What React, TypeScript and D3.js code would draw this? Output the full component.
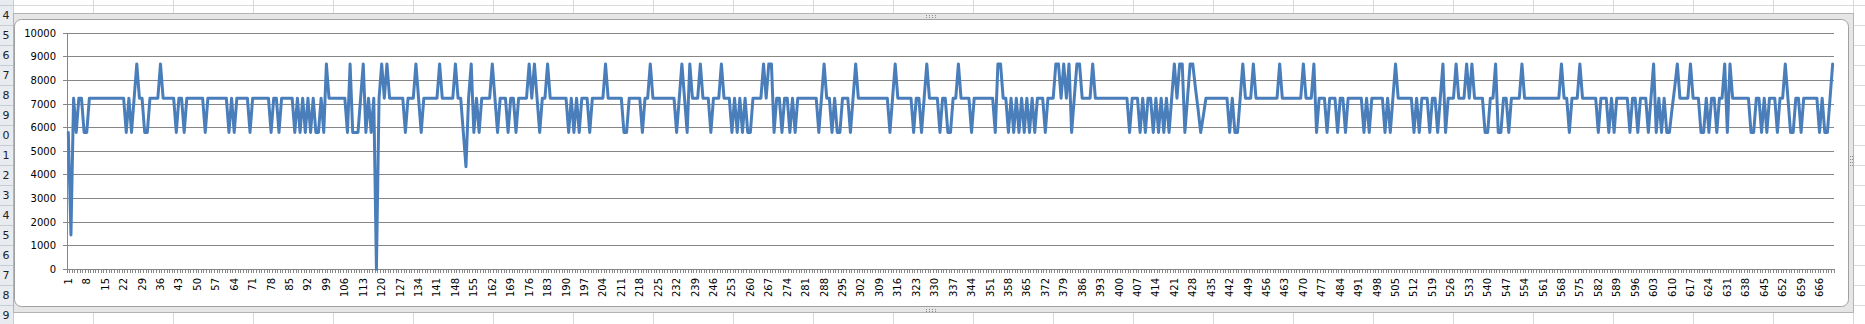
import React from 'react';
import * as d3 from 'd3';

// Series values (points 1..671)
const values001 = [
  5800, 1450, 7250, 5800, 7250, 7250, 5800, 5800, 7250, 7250,
  7250, 7250, 7250, 7250, 7250, 7250, 7250, 7250, 7250, 7250,
  7250, 7250, 5800, 7250, 5800, 7250, 8700, 7250, 7250, 5800,
  5800, 7250, 7250, 7250, 7250, 8700, 7250, 7250, 7250, 7250,
  7250, 5800, 7250, 7250, 5800, 7250, 7250, 7250, 7250, 7250,
  7250, 7250, 5800, 7250, 7250, 7250, 7250, 7250, 7250, 7250,
  7250, 5800, 7250, 5800, 7250, 7250, 7250, 7250, 7250, 5800,
  7250, 7250, 7250, 7250, 7250, 7250, 7250, 5800, 7250, 7250,
  5800, 7250, 7250, 7250, 7250, 7250, 5800, 7250, 5800, 7250,
  5800, 7250, 5800, 7250, 5800, 5800, 7250, 5800, 8700, 7250,
];
const values101 = [
  7250, 7250, 7250, 7250, 7250, 7250, 5800, 8700, 5800, 5800,
  5800, 7250, 8700, 5800, 7250, 5800, 7250, 0, 7250, 8700,
  7250, 8700, 7250, 7250, 7250, 7250, 7250, 7250, 5800, 7250,
  7250, 7250, 8700, 7250, 5800, 7250, 7250, 7250, 7250, 7250,
  7250, 8700, 7250, 7250, 7250, 7250, 7250, 8700, 7250, 7250,
  5800, 4350, 7250, 8700, 5800, 7250, 5800, 7250, 7250, 7250,
  7250, 8700, 7250, 5800, 7250, 7250, 7250, 5800, 7250, 7250,
  5800, 7250, 7250, 7250, 7250, 8700, 7250, 8700, 7250, 5800,
  7250, 7250, 8700, 7250, 7250, 7250, 7250, 7250, 7250, 7250,
  5800, 7250, 5800, 7250, 5800, 7250, 7250, 7250, 5800, 7250,
];
const values201 = [
  7250, 7250, 7250, 7250, 8700, 7250, 7250, 7250, 7250, 7250,
  7250, 5800, 5800, 7250, 7250, 7250, 7250, 7250, 5800, 7250,
  7250, 8700, 7250, 7250, 7250, 7250, 7250, 7250, 7250, 7250,
  7250, 5800, 7250, 8700, 7250, 5800, 8700, 7250, 7250, 7250,
  8700, 7250, 7250, 7250, 5800, 7250, 7250, 7250, 8700, 7250,
  7250, 7250, 5800, 7250, 5800, 7250, 5800, 7250, 5800, 5800,
  7250, 7250, 7250, 7250, 8700, 7250, 8700, 8700, 5800, 7250,
  7250, 5800, 7250, 7250, 5800, 7250, 5800, 7250, 7250, 7250,
  7250, 7250, 7250, 7250, 7250, 5800, 7250, 8700, 7250, 7250,
  5800, 7250, 5800, 5800, 7250, 7250, 7250, 5800, 7250, 8700,
];
const values301 = [
  7250, 7250, 7250, 7250, 7250, 7250, 7250, 7250, 7250, 7250,
  7250, 7250, 5800, 7250, 8700, 7250, 7250, 7250, 7250, 7250,
  7250, 5800, 7250, 7250, 5800, 7250, 8700, 7250, 7250, 7250,
  7250, 5800, 7250, 7250, 5800, 5800, 7250, 7250, 8700, 7250,
  7250, 7250, 7250, 5800, 7250, 7250, 7250, 7250, 7250, 7250,
  7250, 7250, 5800, 8700, 8700, 7250, 7250, 5800, 7250, 5800,
  7250, 5800, 7250, 5800, 7250, 5800, 7250, 5800, 7250, 7250,
  7250, 5800, 7250, 7250, 7250, 8700, 8700, 7250, 8700, 7250,
  8700, 5800, 7250, 8700, 8700, 7250, 7250, 7250, 7250, 8700,
  7250, 7250, 7250, 7250, 7250, 7250, 7250, 7250, 7250, 7250,
];
const values401 = [
  7250, 7250, 7250, 5800, 7250, 7250, 7250, 5800, 7250, 5800,
  7250, 7250, 5800, 7250, 5800, 7250, 5800, 7250, 5800, 7250,
  8700, 7250, 8700, 8700, 5800, 7250, 8700, 8700, 7700, 6800,
  5800, 6500, 7250, 7250, 7250, 7250, 7250, 7250, 7250, 7250,
  7250, 5800, 7250, 5800, 5800, 7250, 8700, 7250, 7250, 7250,
  8700, 7250, 7250, 7250, 7250, 7250, 7250, 7250, 7250, 7250,
  8700, 7250, 7250, 7250, 7250, 7250, 7250, 7250, 7250, 8700,
  7250, 7250, 7250, 8700, 5800, 7250, 7250, 7250, 5800, 7250,
  7250, 7250, 5800, 7250, 7250, 5800, 7250, 7250, 7250, 7250,
  7250, 7250, 5800, 7250, 5800, 7250, 7250, 7250, 7250, 7250,
];
const values501 = [
  5800, 7250, 5800, 7250, 8700, 7250, 7250, 7250, 7250, 7250,
  7250, 5800, 7250, 5800, 7250, 7250, 7250, 5800, 7250, 7250,
  5800, 7250, 8700, 5800, 7250, 7250, 7250, 8700, 7250, 7250,
  7250, 8700, 7250, 8700, 7250, 7250, 7250, 7250, 5800, 5800,
  7250, 7250, 8700, 5800, 5800, 7250, 7250, 5800, 7250, 7250,
  7250, 7250, 8700, 7250, 7250, 7250, 7250, 7250, 7250, 7250,
  7250, 7250, 7250, 7250, 7250, 7250, 7250, 8700, 7250, 7250,
  5800, 7250, 7250, 7250, 8700, 7250, 7250, 7250, 7250, 7250,
  7250, 5800, 7250, 7250, 7250, 5800, 7250, 5800, 7250, 7250,
  7250, 7250, 7250, 5800, 7250, 7250, 5800, 7250, 7250, 7250,
];
const values601 = [
  5800, 7250, 8700, 5800, 7250, 5800, 7250, 5800, 5800, 6800,
  7700, 8700, 7250, 7250, 7250, 7250, 8700, 7250, 7250, 7250,
  5800, 5800, 7250, 5800, 7250, 7250, 5800, 7250, 7250, 8700,
  5800, 8700, 7250, 7250, 7250, 7250, 7250, 7250, 7250, 5800,
  5800, 7250, 7250, 5800, 7250, 5800, 7250, 7250, 7250, 5800,
  7250, 7250, 8700, 7250, 5800, 5800, 7250, 7250, 5800, 7250,
  7250, 7250, 7250, 7250, 7250, 5800, 7250, 5800, 5800, 7250,
  8700,
];

const values: number[] = [
  ...values001, ...values101, ...values201, ...values301,
  ...values401, ...values501, ...values601,
];
const categories: string[] = values.map((_, i) => String(i + 1));
const xTickLabels: string[] = categories.filter((_, i) => i % 7 === 0);
const yTicks: number[] = [0, 1000, 2000, 3000, 4000, 5000, 6000, 7000, 8000, 9000, 10000];
// row header digits visible at the left edge of the sheet
const rowNumbers: string[] = ['4', '5', '6', '7', '8', '9', '0', '1', '2', '3', '4', '5', '6', '7', '8', '9'];

const W = 1865;
const H = 324;
const plot = { left: 67, right: 1834, top: 33.3, bottom: 269.3 };
const FONT = '"DejaVu Sans", Verdana, sans-serif';

export default function App() {
  const x = d3.scaleBand<string>().domain(categories).range([plot.left, plot.right]).padding(0);
  const bw = x.bandwidth();
  const cx = (c: string) => (x(c) as number) + bw / 2;
  const y = d3.scaleLinear().domain([0, 10000]).range([plot.bottom, plot.top]);

  const linePath = d3
    .line<number>()
    .x((_, i) => cx(categories[i]))
    .y((d) => y(d))(values) as string;

  // category boundary ticks
  const boundaries = d3.range(categories.length + 1).map((i) => plot.left + i * bw);

  // spreadsheet background grid
  const colLines = d3.range(0, 24).map((n) => 13 + 80 * n);
  const rowLines = d3.range(0, 17).map((n) => 5 + 20 * n);

  const handleDots = (x0: number, y0: number, horizontal: boolean) =>
    d3.range(4).flatMap((k) =>
      d3.range(2).map((j) => (
        <rect
          key={`${x0}-${y0}-${k}-${j}`}
          x={horizontal ? x0 + k * 3 : x0 + j * 2}
          y={horizontal ? y0 + j * 2 : y0 + k * 3}
          width={1}
          height={1}
          fill="#8a8a8a"
        />
      ))
    );

  return (
    <div style={{ position: 'absolute', left: 0, top: 0 }}>
      <svg width={W} height={H} viewBox={`0 0 ${W} ${H}`} style={{ display: 'block', background: '#fff' }}>
        {/* sheet gridlines */}
        <g stroke="#d9d9d9" strokeWidth={1} shapeRendering="crispEdges">
          {colLines.map((cxl) => (
            <line key={`c${cxl}`} x1={cxl + 0.5} x2={cxl + 0.5} y1={0} y2={H} />
          ))}
          {rowLines.map((ry) => (
            <line key={`r${ry}`} x1={0} x2={W} y1={ry + 0.5} y2={ry + 0.5} />
          ))}
        </g>

        {/* row header */}
        <rect x={0} y={0} width={13} height={H} fill="#e8ecf1" />
        <g stroke="#c6ccd4" shapeRendering="crispEdges">
          {rowLines.map((ry) => (
            <line key={`rh${ry}`} x1={0} x2={13} y1={ry + 0.5} y2={ry + 0.5} />
          ))}
          <line x1={13.5} x2={13.5} y1={0} y2={H} />
        </g>
        <g fontFamily={FONT} fontSize={11} fill="#222">
          {rowNumbers.map((r, i) => (
            <text key={`rn${i}`} x={9.5} y={15 + 20 * i} textAnchor="end" dominantBaseline="central">
              {r}
            </text>
          ))}
        </g>

        {/* chart selection frame */}
        <rect x={13.5} y={13.5} width={1840} height={299} fill="#e6e6e6" stroke="#b4b4b4" />
        {handleDots(926, 15, true)}
        {handleDots(926, 309, true)}
        {handleDots(1850, 156, false)}

        {/* chart area */}
        <rect x={14.5} y={19.5} width={1834} height={287} rx={7} ry={7} fill="#fff" stroke="#a0a0a0" />

        {/* gridlines, axes and ticks */}
        <g stroke="#868686" strokeWidth={1} shapeRendering="crispEdges">
          {yTicks.map((t) => (
            <line key={`g${t}`} x1={plot.left - 4} x2={plot.right} y1={y(t)} y2={y(t)} />
          ))}
          <line x1={plot.left} x2={plot.left} y1={plot.top} y2={plot.bottom} />
          <line x1={plot.left} x2={plot.right} y1={plot.bottom} y2={plot.bottom} />
          {boundaries.map((bx, i) => (
            <line key={`t${i}`} x1={bx} x2={bx} y1={plot.bottom} y2={plot.bottom + 4} />
          ))}
        </g>

        {/* y labels */}
        <g fontFamily={FONT} fontSize={10} fill="#000">
          {yTicks.map((t) => (
            <text key={`yl${t}`} x={56} y={y(t)} textAnchor="end" dominantBaseline="central">
              {t}
            </text>
          ))}
        </g>

        {/* x labels */}
        <g fontFamily={FONT} fontSize={10} fill="#000">
          {xTickLabels.map((c) => (
            <text
              key={`xl${c}`}
              transform={`translate(${cx(c)},278) rotate(-90)`}
              textAnchor="end"
              dominantBaseline="central"
            >
              {c}
            </text>
          ))}
        </g>

        {/* series */}
        <path d={linePath} fill="none" stroke="#4a7ebb" strokeWidth={3} strokeLinejoin="round" strokeLinecap="round" />
      </svg>
    </div>
  );
}
